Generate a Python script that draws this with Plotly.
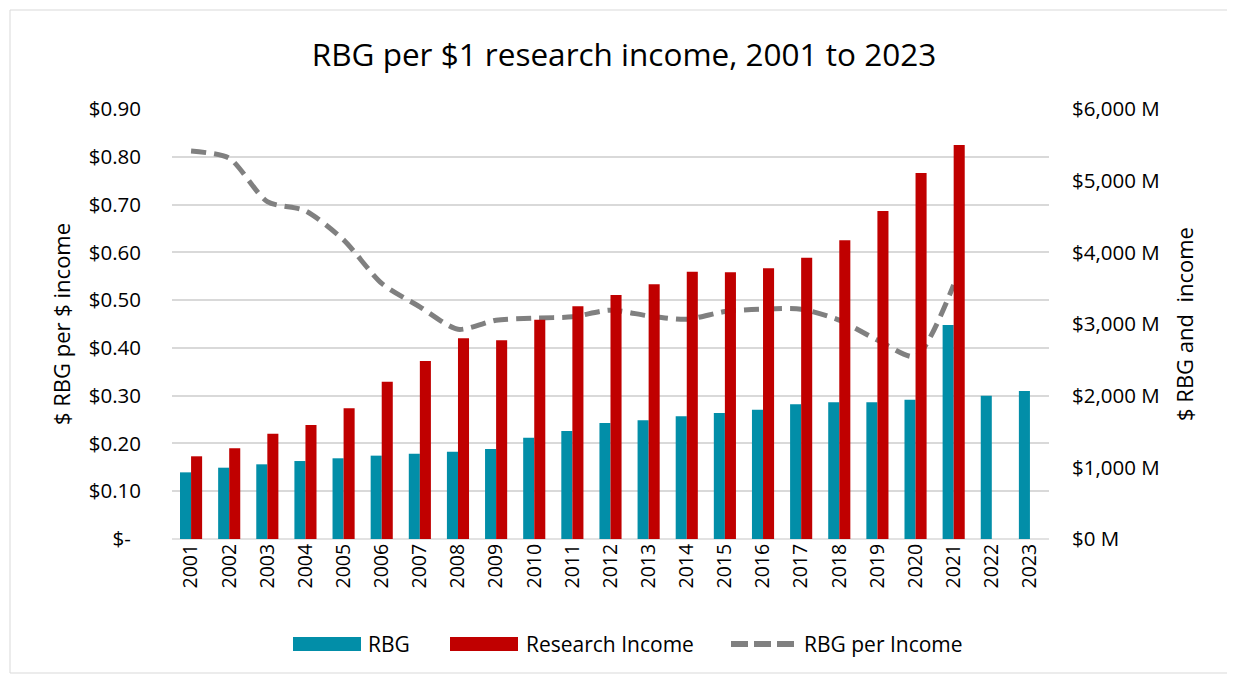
import plotly.graph_objects as go

years = [str(y) for y in range(2001, 2024)]
rbg = [930, 995, 1042, 1088, 1126, 1163, 1191, 1219, 1256, 1414, 1507, 1619,
       1656, 1712, 1758, 1805, 1879, 1907, 1907, 1944, 2986, 2000, 2065]
income = [1154, 1265, 1470, 1591, 1823, 2195, 2484, 2800, 2772, 3060, 3247, 3405,
          3553, 3730, 3721, 3777, 3926, 4167, 4577, 5107, 5498, None, None]
ratio = [0.812, 0.797, 0.706, 0.687, 0.626, 0.535, 0.486, 0.439, 0.458, 0.4625, 0.465, 0.479,
         0.467, 0.460, 0.476, 0.481, 0.481, 0.458, 0.4165, 0.382, 0.532, None, None]

left_vals = [0, 0.1, 0.2, 0.3, 0.4, 0.5, 0.6, 0.7, 0.8, 0.9]
left_text = ["$-\u2002"] + [f"${v:.2f}" for v in left_vals[1:]]
right_vals = [0, 1000, 2000, 3000, 4000, 5000, 6000]
right_text = [f"${v:,} M" for v in right_vals]

series_names = ["RBG", "Research Income", "RBG per Income"]
TEAL, RED, GREY = "#028EA8", "#C00000", "#808080"

FONT = "Open Sans, Liberation Sans, sans-serif"
TXT = "#000000"

# page offset (body margin) and plot geometry in figure pixels
OFF = 8
W, H = 1235 - OFF, 675 - OFF
L, T, PW, PH = 172 - OFF, 109 - OFF, 877, 430


def px(xp):
    return (xp - OFF - L) / PW


def py(yp):
    return (T + PH - (yp - OFF)) / PH


fig = go.Figure()
fig.add_trace(go.Bar(x=years, y=rbg, name=series_names[0], marker_color=TEAL,
                     marker_line_width=0, yaxis="y2"))
fig.add_trace(go.Bar(x=years, y=income, name=series_names[1], marker_color=RED,
                     marker_line_width=0, yaxis="y2"))
fig.add_trace(go.Scatter(x=years, y=ratio, name=series_names[2], mode="lines",
                         line=dict(color=GREY, width=5, dash="15px,8px", shape="spline",
                                   smoothing=0.7),
                         yaxis="y"))

fig.update_layout(
    width=W, height=H,
    margin=dict(l=L, r=W - L - PW, t=T, b=H - T - PH),
    paper_bgcolor="white", plot_bgcolor="white",
    font=dict(family=FONT, size=20, color=TXT),
    title=dict(text="RBG per $1 research income, 2001 to 2023", x=px(624), xref="paper",
               xanchor="center", y=1 - (55 - OFF) / H, yanchor="middle",
               font=dict(size=31.5, family=FONT, color=TXT)),
    barmode="group", bargap=0.42, bargroupgap=0,
    showlegend=False,
    xaxis=dict(type="category", tickangle=-90, showgrid=False, showline=False, ticks="",
               tickfont=dict(size=19.5), zeroline=False),
    yaxis=dict(range=[0, 0.9], tickvals=left_vals, ticktext=left_text, showgrid=True,
               gridcolor="#D9D9D9", gridwidth=1.5, zeroline=False, showline=False, ticks="",
               tickfont=dict(size=20.5), ticklabelstandoff=30,
               title=dict(text="$ RBG per $ income", font=dict(size=22), standoff=12)),
    yaxis2=dict(range=[0, 6000], tickvals=right_vals, ticktext=right_text, overlaying="y",
                side="right", showgrid=False, zeroline=False, showline=False, ticks="",
                tickfont=dict(size=20.5), ticklabelstandoff=22,
                title=dict(text="$ RBG and  income", font=dict(size=22), standoff=18)),
)

fig.add_shape(type="line", xref="paper", yref="paper", x0=0, x1=1, y0=0, y1=0,
              line=dict(color="#D9D9D9", width=1.5), layer="below")
fig.add_shape(type="rect", xref="paper", yref="paper",
              x0=px(10), x1=px(1233), y0=py(673), y1=py(10),
              line=dict(color="#D9D9D9", width=1), fillcolor="rgba(0,0,0,0)")

# custom legend (wide swatches like the original)
ly = 644
fig.add_shape(type="rect", xref="paper", yref="paper", x0=px(293), x1=px(361),
              y0=py(651), y1=py(637), fillcolor=TEAL, line_width=0)
fig.add_shape(type="rect", xref="paper", yref="paper", x0=px(450), x1=px(518),
              y0=py(651), y1=py(637), fillcolor=RED, line_width=0)
fig.add_shape(type="line", xref="paper", yref="paper", x0=px(731), x1=px(794),
              y0=py(ly), y1=py(ly), line=dict(color=GREY, width=6, dash="17px,6px"))
for name, xs in zip(series_names, [366, 524, 802]):
    fig.add_annotation(text=name, xref="paper", yref="paper", x=px(xs), y=py(ly),
                       xanchor="left", yanchor="middle", showarrow=False,
                       font=dict(size=21, family=FONT, color=TXT))

fig.write_html("out.html")
